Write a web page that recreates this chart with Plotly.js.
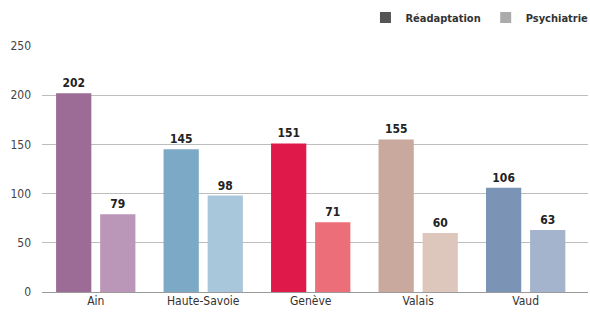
<!DOCTYPE html>
<html>
<head>
<meta charset="utf-8">
<script src="https://cdn.plot.ly/plotly-3.0.1.min.js"></script>
<style>html,body{margin:0;padding:0;background:#fff;}#chart{width:590px;height:313px;}</style>
</head>
<body>
<div id="chart"></div>
<script>
const categories = ["Ain", "Haute-Savoie", "Genève", "Valais", "Vaud"];
const readaptation = [202, 145, 151, 155, 106];
const psychiatrie = [79, 98, 71, 60, 63];
const seriesNames = ["Réadaptation", "Psychiatrie"];
const readaptationColors = ["#9c6c96", "#7ba9c6", "#e0194b", "#c9a99d", "#7b94b6"];
const psychiatrieColors = ["#ba96b8", "#a9c7da", "#ec6e78", "#ddc6bc", "#a4b4cd"];
const legendColors = ["#555555", "#ababab"];
const yTicks = [0, 50, 100, 150, 200, 250];

const narrow = "DejaVu Sans Condensed, Liberation Sans Narrow, sans-serif";

const traces = [
  {
    type: "bar", x: categories, y: readaptation, name: seriesNames[0],
    marker: {color: readaptationColors},
    text: readaptation.map(String), textposition: "outside", cliponaxis: false,
    textfont: {family: narrow, size: 12, color: "#222", weight: "bold"},
    showlegend: false, hoverinfo: "none"
  },
  {
    type: "bar", x: categories, y: psychiatrie, name: seriesNames[1],
    marker: {color: psychiatrieColors},
    text: psychiatrie.map(String), textposition: "outside", cliponaxis: false,
    textfont: {family: narrow, size: 12, color: "#222", weight: "bold"},
    showlegend: false, hoverinfo: "none"
  },
  {
    type: "scatter", mode: "markers", x: [null], y: [null], name: seriesNames[0],
    marker: {symbol: "square", size: 11, color: legendColors[0]}, showlegend: true
  },
  {
    type: "scatter", mode: "markers", x: [null], y: [null], name: seriesNames[1],
    marker: {symbol: "square", size: 11, color: legendColors[1]}, showlegend: true
  }
];

const layout = {
  width: 590, height: 313,
  margin: {l: 42, r: 2, t: 45, b: 21, autoexpand: false},
  paper_bgcolor: "#fff", plot_bgcolor: "#fff",
  barmode: "group", bargap: 0.18, bargroupgap: 0.2,
  font: {family: narrow, size: 12, color: "#333"},
  xaxis: {
    type: "category", range: [-0.5, 4.58],
    showgrid: false, zeroline: false, showline: false,
    ticks: "", tickfont: {family: narrow, size: 12, color: "#333"}
  },
  yaxis: {
    range: [0, 251], tickvals: yTicks, ticktext: yTicks.map(String),
    showgrid: true, gridcolor: "#bdbdbd", gridwidth: 1,
    zeroline: true, zerolinecolor: "#9a9a9a", zerolinewidth: 1,
    showline: false, ticks: "", ticklabelstandoff: 10,
    tickfont: {family: narrow, size: 12, color: "#444"}
  },
  showlegend: true,
  legend: {
    orientation: "h", x: 1.01, xanchor: "right", y: 1.17, yanchor: "top",
    font: {family: narrow, size: 11, color: "#333", weight: "bold"},
    itemwidth: 30, tracegroupgap: 0, bgcolor: "rgba(0,0,0,0)"
  }
};

Plotly.newPlot("chart", traces, layout, {displayModeBar: false, staticPlot: true});
</script>
</body>
</html>
